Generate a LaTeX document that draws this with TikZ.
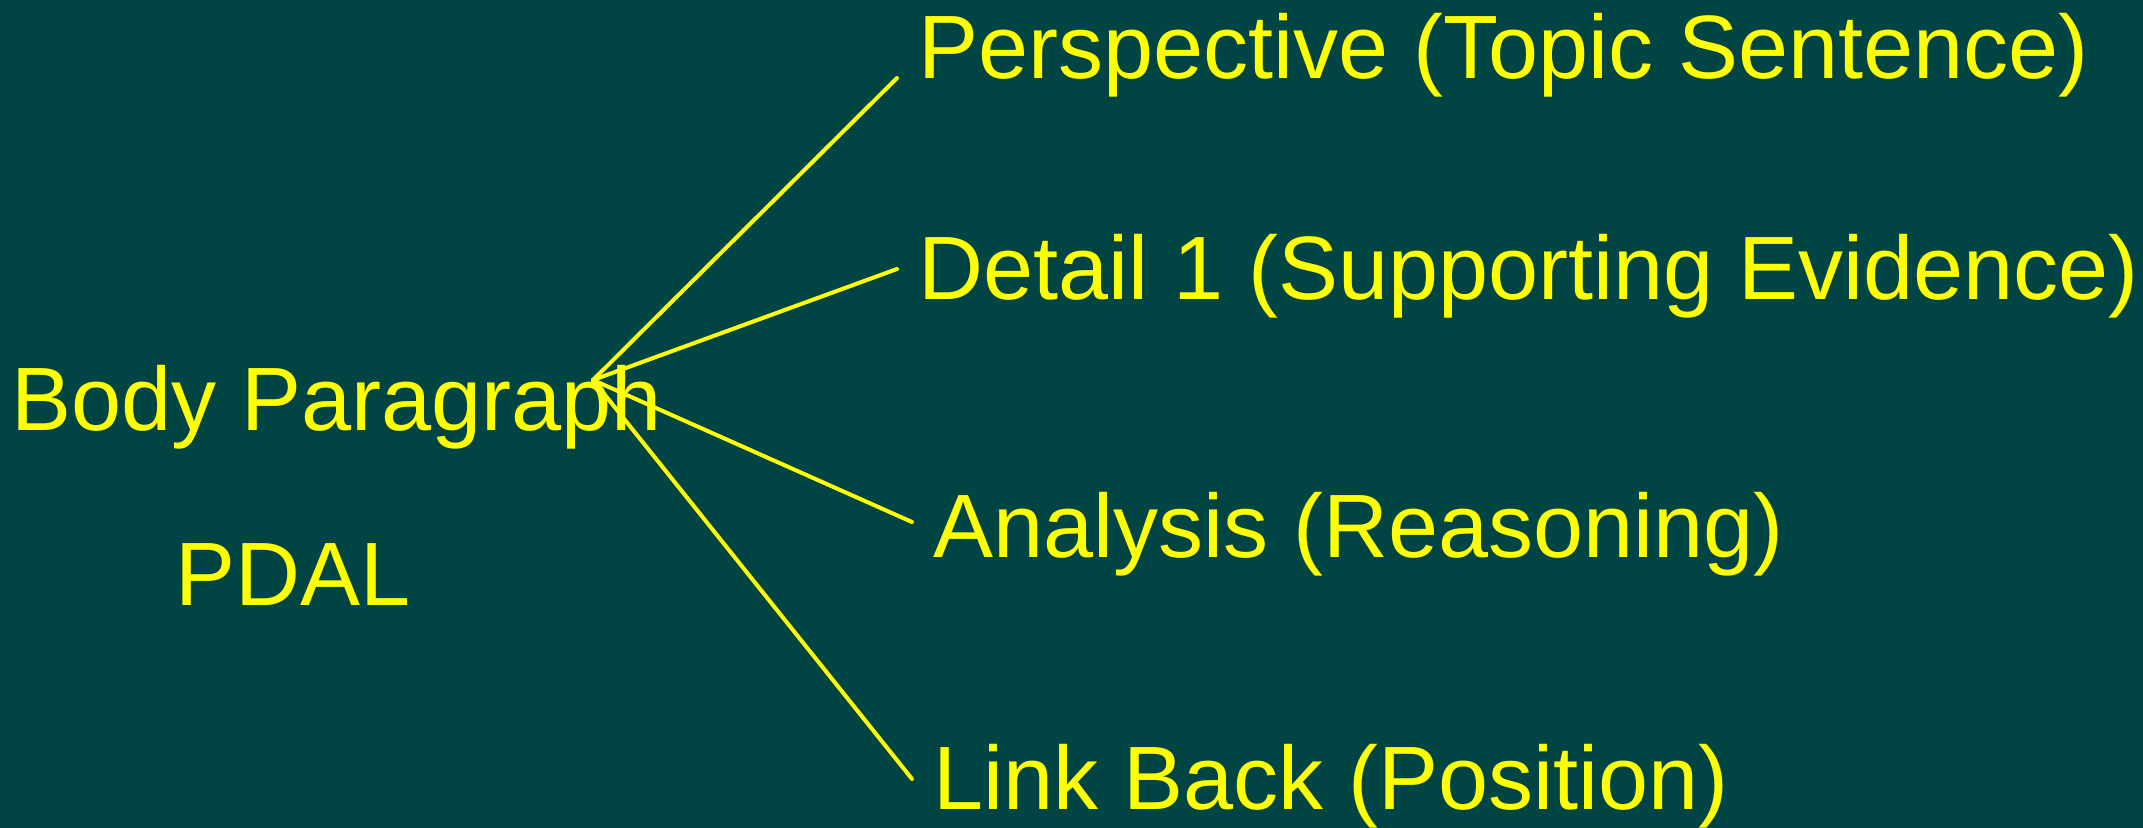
\documentclass[tikz,border=0pt]{standalone}
\usepackage{fontspec}
\setmainfont{Liberation Sans}
\usepackage{tikz}
\usetikzlibrary{positioning}
\definecolor{bgteal}{HTML}{004443}
\definecolor{ylw}{HTML}{FFFF00}

\begin{document}
\begin{tikzpicture}[
  x=0.5pt,y=-0.5pt,
  lbl/.style={anchor=base west,inner sep=0pt,text=ylw,font=\fontsize{45pt}{50pt}\selectfont},
  spoke/.style={draw=ylw,line width=2pt,line cap=round}]

\fill[bgteal] (0,0) rectangle (2143,828);
\useasboundingbox (0,0) rectangle (2143,828);

\node[lbl] (body) at (11,431) {Body Paragraph};
\node[lbl] (pdal) at (175,605) {PDAL};

\node[lbl] (persp) at (918,79) {Perspective (Topic Sentence)};
\node[lbl] (detail) at (918,300) {Detail 1 (Supporting Evidence)};
\node[lbl] (analysis) at (933,558) {Analysis (Reasoning)};
\node[lbl] (link) at (933,809) {Link Back (Position)};

\coordinate (hub) at (593,380);
\coordinate (e1) at (897,78);
\coordinate (e2) at (897,269);
\coordinate (e3) at (912,522);
\coordinate (e4) at (912,779);

\draw[spoke] (hub) -- (e1);
\draw[spoke] (hub) -- (e2);
\draw[spoke] (hub) -- (e3);
\draw[spoke] (hub) -- (e4);
\end{tikzpicture}
\end{document}
